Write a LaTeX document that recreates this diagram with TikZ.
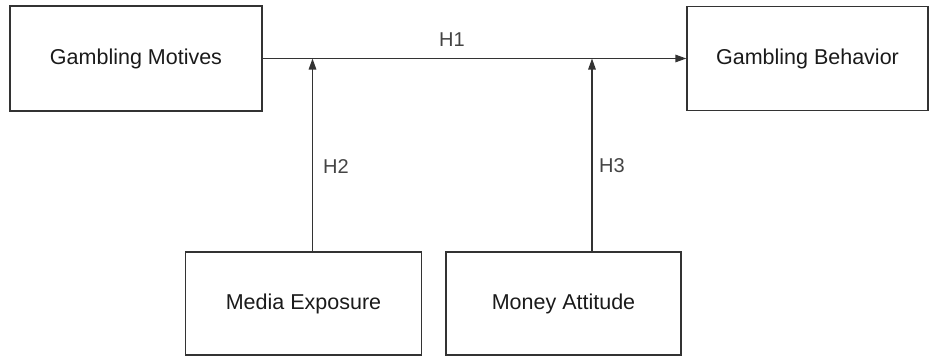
\documentclass[tikz,border=0pt]{standalone}
\usepackage{fontspec}
\setmainfont{Liberation Sans}
\usetikzlibrary{arrows.meta}
\definecolor{linec}{HTML}{333333}
\definecolor{txtc}{HTML}{1A1A1A}
\definecolor{hc}{HTML}{444444}
\tikzset{
  box/.style={draw=linec, line width=1.3pt, rectangle, inner sep=0pt,
    text=txtc, font=\fontsize{21.5}{24}\selectfont},
  conn/.style={draw=linec, line width=1.3pt, -{Triangle[length=11pt,width=7.5pt]}},
  hlab/.style={text=hc, font=\fontsize{20}{22}\selectfont, inner sep=0pt}
}
\begin{document}
\begin{tikzpicture}[x=1pt,y=-1pt]
\useasboundingbox (0,0) rectangle (930,356);
\node[box, minimum width=252pt, minimum height=105pt] (gm) at (136,58.5) {Gambling Motives};
\node[box, minimum width=241pt, minimum height=104pt] (gb) at (807.5,58.5) {Gambling Behavior};
\node[box, minimum width=236pt, minimum height=103pt] (me) at (303.5,303.5) {Media Exposure};
\node[box, minimum width=235pt, minimum height=103pt] (ma) at (563.5,303.5) {Money Attitude};
\coordinate (j2) at (312.5,58.5);
\coordinate (j3) at (592,58.5);
\draw[conn] (gm.east) -- (gb.west);
\draw[conn] (j2 |- me.north) -- (j2);
\draw[conn] (j3 |- ma.north) -- (j3);
\node[hlab] (h1) at (452,40) {H1};
\node[hlab] (h2) at (336,167) {H2};
\node[hlab] (h3) at (612,166) {H3};
\end{tikzpicture}
\end{document}
